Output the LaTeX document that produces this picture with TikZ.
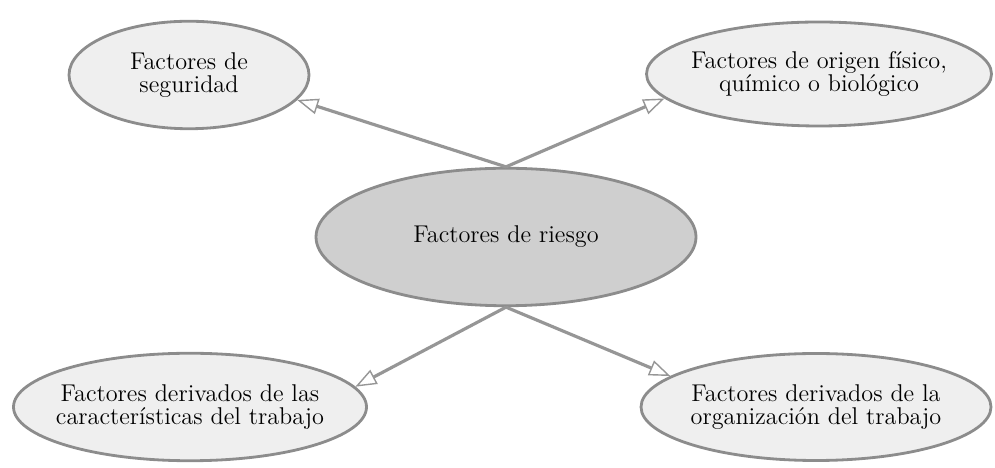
\documentclass[tikz,border=0pt]{standalone}
\usetikzlibrary{shapes.geometric,arrows.meta}
\definecolor{borde}{RGB}{140,140,140}
\definecolor{linea}{RGB}{150,150,150}
\definecolor{claro}{RGB}{239,239,239}
\definecolor{medio}{RGB}{207,207,207}
\tikzset{
	factor/.style={ellipse, draw=borde, line width=1.6pt, fill=claro, inner xsep=-16pt, inner ysep=0pt, align=center, font=\fontsize{13.8}{13.4}\selectfont},
	enlace/.style={draw=linea, line width=1.8pt}
}
\begin{document}
\begin{tikzpicture}[line join=round, >={Triangle[length=12pt, width=9pt, line width=0.8pt, fill=white]}]
		\useasboundingbox (0,0) rectangle (19.9,9.36);
		% Elipse central
		\node[factor, fill=medio, minimum width=7.6cm, minimum height=2.75cm] (riesgo) at (10.12,4.62) {Factores de riesgo};
		\node[factor, minimum width=4.8cm, minimum height=2.15cm] (seg) at (3.78,7.86) {Factores de\\seguridad};
		\node[factor, minimum width=6.9cm, minimum height=2.08cm] (fis) at (16.38,7.88) {Factores de origen físico,\\químico o biológico};
		\node[factor, minimum width=7.06cm, minimum height=2.15cm] (car) at (3.8,1.22) {Factores derivados de las\\características del trabajo};
		\node[factor, minimum width=7.0cm, minimum height=2.14cm] (org) at (16.32,1.22) {Factores derivados de la\\organización del trabajo};
		\draw[enlace,->] (riesgo.north) -- (seg.347);
		\draw[enlace,->] (riesgo.north) -- (fis.189);
		\draw[enlace,->] (riesgo.south) -- (car.7);
		\draw[enlace,->] (riesgo.south) -- (org.168);
		\end{tikzpicture}
\end{document}
